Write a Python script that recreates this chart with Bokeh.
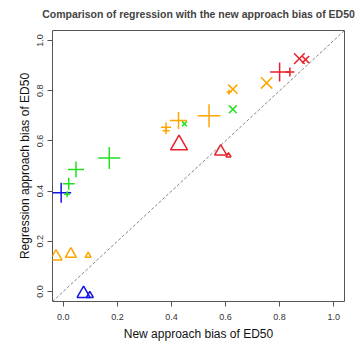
from bokeh.plotting import figure
from bokeh.models import Range1d, FixedTicker, Slope, ColumnDataSource, Title
from bokeh.embed import file_html
from bokeh.resources import INLINE

# Bias of ED50: new approach (x) vs regression approach (y)
new_bias = [-0.008, 0.075, 0.098,
            0.170, 0.047, 0.020, 0.014, 0.448, 0.627,
            0.380, 0.380, 0.426, 0.539, 0.627, 0.613, 0.752,
            -0.027, 0.028, 0.092,
            0.428, 0.582, 0.611, 0.800, 0.838, 0.873, 0.896]
reg_bias = [0.393, -0.009, -0.016,
            0.532, 0.486, 0.429, 0.387, 0.668, 0.726,
            0.654, 0.640, 0.681, 0.700, 0.806, 0.795, 0.831,
            0.139, 0.149, 0.143,
            0.584, 0.558, 0.542, 0.875, 0.875, 0.928, 0.924]
group = ["blue", "blue", "blue",
         "green", "green", "green", "green", "green", "green",
         "orange", "orange", "orange", "orange", "orange", "orange", "orange",
         "orange", "orange", "orange",
         "red", "red", "red", "red", "red", "red", "red"]
shape = ["cross", "triangle", "triangle",
         "cross", "cross", "cross", "cross", "x", "x",
         "cross", "cross", "cross", "cross", "x", "cross", "x",
         "triangle", "triangle", "triangle",
         "triangle", "triangle", "triangle", "cross", "cross", "x", "x"]
ticks = [0.0, 0.2, 0.4, 0.6, 0.8, 1.0]
tick_labels = {0.0: "0.0", 0.2: "0.2", 0.4: "0.4", 0.6: "0.6", 0.8: "0.8", 1.0: "1.0"}
title_text = "Comparison of regression with the new approach bias of ED50"

# symbol scale per point (pixels)
marker_px = [20, 13, 7,
             22, 16, 12, 6, 7, 11,
             10, 7, 17, 23, 13, 5, 16,
             12, 11, 6,
             17, 12, 5, 19, 9, 15, 10]
palette = {"blue": "#1414E6", "green": "#22E022", "orange": "#FFA500", "red": "#E8202C"}

FONT = "Liberation Sans"

p = figure(width=360, height=344, output_backend="svg", toolbar_location=None,
           x_range=Range1d(-0.04, 1.04), y_range=Range1d(-0.04, 1.04),
           min_border_left=52, min_border_right=16, min_border_top=30,
           min_border_bottom=43, title=title_text)

p.title.align = "center"
p.title.text_font = FONT
p.title.text_font_size = "10.5px"
p.title.text_font_style = "bold"
p.title.standoff = 0

# blank spacer between the title and the plotting frame
p.add_layout(Title(text=" ", text_font_size="8px", standoff=0), "above")

p.grid.visible = False
p.outline_line_color = "#555555"
p.outline_line_width = 1
p.background_fill_color = "white"
p.border_fill_color = "white"

for ax in (p.xaxis[0], p.yaxis[0]):
    ax.ticker = FixedTicker(ticks=ticks)
    ax.major_label_overrides = tick_labels
    ax.minor_tick_line_color = None
    ax.axis_line_color = None
    ax.major_tick_in = 0
    ax.major_tick_out = 5
    ax.major_tick_line_color = "#555555"
    ax.major_label_text_font = FONT
    ax.major_label_text_font_size = "9px"
    ax.major_label_text_color = "#333333"
    ax.axis_label_text_font = FONT
    ax.axis_label_text_font_size = "12px"
    ax.axis_label_text_font_style = "normal"
    ax.axis_label_text_color = "#111111"

p.xaxis.axis_label = "New approach bias of ED50"
p.yaxis.axis_label = "Regression approach bias of ED50"
p.xaxis.major_label_standoff = 7
p.yaxis.major_label_standoff = 4
p.yaxis.major_label_orientation = "vertical"
p.xaxis.axis_label_standoff = 4
p.yaxis.axis_label_standoff = 3

# reference line y = x
p.add_layout(Slope(gradient=1, y_intercept=0, line_color="#666666",
                   line_dash="3 2", line_width=0.8))

src = ColumnDataSource(dict(x=new_bias, y=reg_bias,
                            color=[palette[g] for g in group],
                            marker=shape, size=marker_px))
p.scatter("x", "y", source=src, marker="marker", size="size",
          line_color="color", fill_color=None, line_width=1.5)

open("out.html", "w").write(file_html(p, INLINE))
